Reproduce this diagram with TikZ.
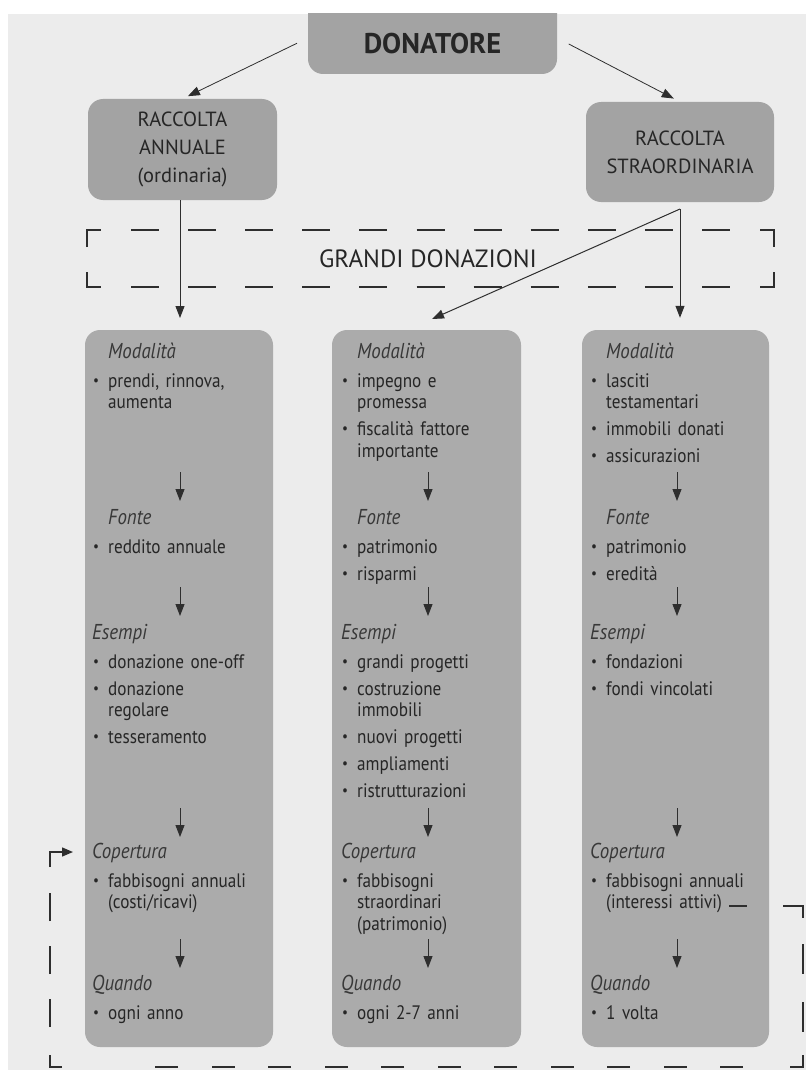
\documentclass[tikz,border=0pt]{standalone}
\usepackage{fontspec}
\setmainfont{PT Sans}[FakeStretch=0.88]
\newfontfamily\headfont{PT Sans}
\usetikzlibrary{arrows.meta}
\definecolor{bgc}{gray}{0.925}
\definecolor{boxc}{gray}{0.67}
\definecolor{topc}{gray}{0.64}
\definecolor{txt}{gray}{0.15}
\definecolor{labc}{gray}{0.22}
\definecolor{linec}{gray}{0.18}
\newcommand{\lab}[1]{\noindent{\color{labc}\fontsize{21.5}{21.5}\selectfont\itshape #1}\par\vspace{2pt}}
\newcommand{\labi}[1]{\noindent\hspace*{16pt}{\color{labc}\fontsize{21.5}{21.5}\selectfont\itshape #1}\par\vspace{2pt}}
\newcommand{\bit}[1]{\par\noindent\hbox to 16pt{\hspace*{1pt}\raisebox{2pt}{\fontsize{15}{15}\selectfont\textbullet}\hss}#1}
\newcommand{\cnt}[1]{\par\vspace{-\parskip}\noindent\hspace*{16pt}#1}
\begin{document}
\begin{tikzpicture}[x=1pt,y=-1pt,
  box/.style={fill=boxc, draw=none, rounded corners=15pt, inner sep=0pt},
  topbox/.style={fill=topc, draw=none, rounded corners=15pt, inner sep=0pt, text=txt, align=center},
  arr/.style={draw=linec, line width=1pt, -{Triangle[length=12pt,width=9pt]}},
  arrt/.style={draw=linec, line width=0.8pt, -{Triangle[length=12pt,width=9pt]}},
  dline/.style={draw=linec, line width=1.4pt},
  sec/.style={anchor=base west, inner sep=0pt, text width=190pt, text=txt,
    font=\fontsize{19.5}{21.5}\selectfont\setlength{\parskip}{5.5pt}},
]
\useasboundingbox (0,0) rectangle (806,1070);
\fill[white] (0,0) rectangle (806,1070);
\fill[bgc] (8,14) rectangle (806,1070);

% top boxes
\begin{scope}
\clip (8,14) rectangle (806,1070);
\node[topbox, minimum width=249pt, minimum height=84pt] (don) at (432.5,32) {};
\end{scope}
\node[text=txt, font=\headfont\fontsize{28.5}{28.5}\selectfont\bfseries] (dont) at (432.5,44) {DONATORE};
\node[topbox, minimum width=189pt, minimum height=101pt, font=\headfont\fontsize{20.5}{28}\selectfont] (ann) at (182.5,149.5) {RACCOLTA\\ANNUALE\\(ordinaria)};
\node[topbox, minimum width=188pt, minimum height=100pt, font=\headfont\fontsize{20.5}{28}\selectfont] (stra) at (680,152) {RACCOLTA\\STRAORDINARIA};

% columns
\node[box, minimum width=188pt, minimum height=717pt] (c1) at (179,688.5) {};
\node[box, minimum width=189pt, minimum height=717pt] (c2) at (426.5,688.5) {};
\node[box, minimum width=187pt, minimum height=717pt] (c3) at (675.5,688.5) {};

% grandi donazioni dashed frame
\node[text=txt, font=\headfont\fontsize{25}{25}\selectfont] (gd) at (428,259) {GRANDI DONAZIONI};
\draw[dline] (87,247) -- (87,230) -- (101,230);
\draw[dline] (760,230) -- (774,230) -- (774,247);
\draw[dline] (87,272) -- (87,287) -- (101,287);
\draw[dline] (760,287) -- (774,287) -- (774,272);
\draw[dline, dash pattern=on 28pt off 29.1pt] (131,230) -- (730,230);
\draw[dline, dash pattern=on 28pt off 29.1pt] (131,287) -- (730,287);

% top arrows
\draw[arrt, shorten <=12pt, shorten >=6pt] (don.west |- 0,38) -- (ann.north);
\draw[arrt, shorten <=13pt, shorten >=7pt] (don.east |- 0,38) -- (stra.north);
\draw[arr, shorten >=12pt] (ann.south -| 180,0) -- (180,330);
\coordinate (split) at (680,209);
\coordinate (c2in) at (432,319);
\draw[arr] (split) -- (c2in);
\draw[arr, shorten >=12pt] (split) -- (split |- c3.north);

% inner arrows
\foreach \x/\n in {180/1,428/2,677/3}{
  \coordinate (a\n s1) at (\x,472); \coordinate (a\n e1) at (\x,501);
  \coordinate (a\n s2) at (\x,587); \coordinate (a\n e2) at (\x,616);
  \coordinate (a\n s3) at (\x,808); \coordinate (a\n e3) at (\x,837);
  \coordinate (a\n s4) at (\x,939); \coordinate (a\n e4) at (\x,968);
  \foreach \k in {1,2,3,4}{\draw[arr] (a\n s\k) -- (a\n e\k);}
}

% column 1
\node[sec] (m1) at (92,358) {\labi{Modalità}\bit{prendi, rinnova,}\cnt{aumenta}};
\node[sec] (f1) at (92,524) {\labi{Fonte}\bit{reddito annuale}};
\node[sec] (e1) at (92,639) {\lab{Esempi}\bit{donazione one-off}\bit{donazione}\cnt{regolare}\bit{tesseramento}};
\node[sec] (p1) at (92,858) {\lab{Copertura}\bit{fabbisogni annuali}\cnt{(costi/ricavi)}};
\node[sec] (q1) at (92,990) {\lab{Quando}\bit{ogni anno}};

% column 2
\node[sec] (m2) at (341,358) {\labi{Modalità}\bit{impegno e}\cnt{promessa}\bit{fiscalità fattore}\cnt{importante}};
\node[sec] (f2) at (341,524) {\labi{Fonte}\bit{patrimonio}\bit{risparmi}};
\node[sec] (e2) at (341,639) {\lab{Esempi}\bit{grandi progetti}\bit{costruzione}\cnt{immobili}\bit{nuovi progetti}\bit{ampliamenti}\bit{ristrutturazioni}};
\node[sec] (p2) at (341,858) {\lab{Copertura}\bit{fabbisogni}\cnt{straordinari}\cnt{(patrimonio)}};
\node[sec] (q2) at (341,990) {\lab{Quando}\bit{ogni 2-7 anni}};

% column 3
\node[sec] (m3) at (590,358) {\labi{Modalità}\bit{lasciti}\cnt{testamentari}\bit{immobili donati}\bit{assicurazioni}};
\node[sec] (f3) at (590,524) {\labi{Fonte}\bit{patrimonio}\bit{eredità}};
\node[sec] (e3) at (590,639) {\lab{Esempi}\bit{fondazioni}\bit{fondi vincolati}};
\node[sec] (p3) at (590,858) {\lab{Copertura}\bit{fabbisogni annuali}\cnt{(interessi attivi)}};
\node[sec] (q3) at (590,990) {\lab{Quando}\bit{1 volta}};

% dashed loop from column 3 to column 1
\coordinate (loopS) at (729,906);
\coordinate (loopE) at (73,852);
\draw[dline] (loopS) -- ++(18,0);
\draw[dline] (783,906) -- (803,906) -- (803,918);
\draw[dline, dash pattern=on 30pt off 28pt] (803,944) -- (803,1032);
\draw[dline] (803,1055) -- (803,1067) -- (790,1067);
\draw[dline, dash pattern=on 23pt off 33.5pt] (743,1067) -- (154,1067);
\draw[dline] (62,1067) -- (50,1067) -- (50,1055);
\draw[dline, dash pattern=on 28pt off 25pt] (50,1027) -- (50,883);
\draw[dline, -{Triangle[length=11pt,width=9pt]}] (50,867) -- (50,852) -- (loopE);
\end{tikzpicture}
\end{document}
